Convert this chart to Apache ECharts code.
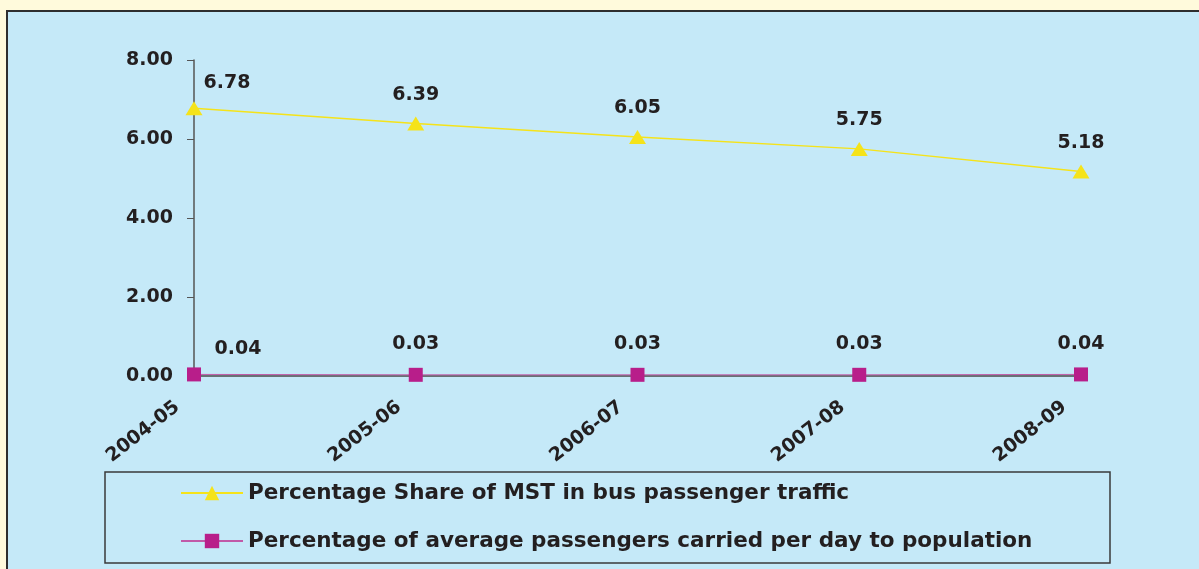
<!DOCTYPE html>
<html>
<head>
<meta charset="utf-8">
<script src="https://cdn.jsdelivr.net/npm/echarts@6/dist/echarts.min.js"></script>
<style>
  html, body { margin: 0; padding: 0; background: #FFFADC; }
  #chart { width: 1199px; height: 569px; }
</style>
</head>
<body>
<div id="chart"></div>
<script>
// Years on the category axis
const years = ['2004-05', '2005-06', '2006-07', '2007-08', '2008-09'];
// Percentage share of MST in bus passenger traffic
const mstShare = [6.78, 6.39, 6.05, 5.75, 5.18];
// Percentage of average passengers carried per day to population
const passengersToPopulation = [0.04, 0.03, 0.03, 0.03, 0.04];
// Value-axis range
const yMin = 0, yMax = 8, yStep = 2;

const seriesNames = [
  'Percentage Share of MST in bus passenger traffic',
  'Percentage of average passengers carried per day to population'
];

const FONT = '"DejaVu Sans", sans-serif';
const labelText = { fontFamily: FONT, fontWeight: 'bold', fontSize: 19, color: '#231F20' };

function withFirstOffset(values, offset) {
  return values.map((v, i) => i === 0
    ? { value: v, label: { offset: offset } }
    : v);
}

const chart = echarts.init(document.getElementById('chart'), null, { renderer: 'canvas' });

chart.setOption({
  backgroundColor: '#FFFADC',
  animation: false,
  graphic: [
    {
      type: 'rect', z: -10, silent: true,
      shape: { x: 7, y: 11, width: 1250, height: 600 },
      style: { fill: '#C5E9F8', stroke: '#2E2E2E', lineWidth: 2 }
    },
    {
      type: 'rect', z: -5, silent: true,
      shape: { x: 105, y: 472, width: 1005, height: 91 },
      style: { fill: 'transparent', stroke: '#3A3A3A', lineWidth: 1.5 }
    }
  ],
  grid: { left: 194, right: 118, top: 60, bottom: 193, containLabel: false },
  xAxis: {
    type: 'category',
    data: years,
    boundaryGap: false,
    axisLine: { lineStyle: { color: '#4A4A4A', width: 1.5 } },
    axisTick: { show: false },
    axisLabel: Object.assign({ rotate: 38, margin: 16, interval: 0, padding: [0, 21, 0, 0] }, labelText),
    splitLine: { show: false }
  },
  yAxis: {
    type: 'value',
    min: yMin, max: yMax, interval: yStep,
    axisLine: { show: true, lineStyle: { color: '#555', width: 1.5 } },
    axisTick: { show: true, length: 7, lineStyle: { color: '#555' } },
    axisLabel: Object.assign({ margin: 21, formatter: v => v.toFixed(2) }, labelText),
    splitLine: { show: false }
  },
  legend: {
    orient: 'vertical',
    left: 180, top: 482, padding: 0,
    itemWidth: 62, itemHeight: 18, itemGap: 26,
    textStyle: { fontFamily: FONT, fontWeight: 'bold', fontSize: 21.5, color: '#231F20', lineHeight: 20 },
    data: seriesNames
  },
  series: [
    {
      name: seriesNames[0],
      type: 'line',
      data: withFirstOffset(mstShare, [33, 3]),
      symbol: 'triangle', symbolSize: [17, 14],
      lineStyle: { color: '#F5E31A', width: 1.5 },
      itemStyle: { color: '#F5E31A' },
      label: Object.assign({ show: true, position: 'top', distance: 12, formatter: p => p.value.toFixed(2) }, labelText)
    },
    {
      name: seriesNames[1],
      type: 'line',
      data: withFirstOffset(passengersToPopulation, [44, 5]),
      symbol: 'rect', symbolSize: 14,
      lineStyle: { color: '#C15AA8', width: 1 },
      itemStyle: { color: '#B81E8A' },
      label: Object.assign({ show: true, position: 'top', distance: 14, formatter: p => p.value.toFixed(2) }, labelText)
    }
  ]
});
</script>
</body>
</html>
